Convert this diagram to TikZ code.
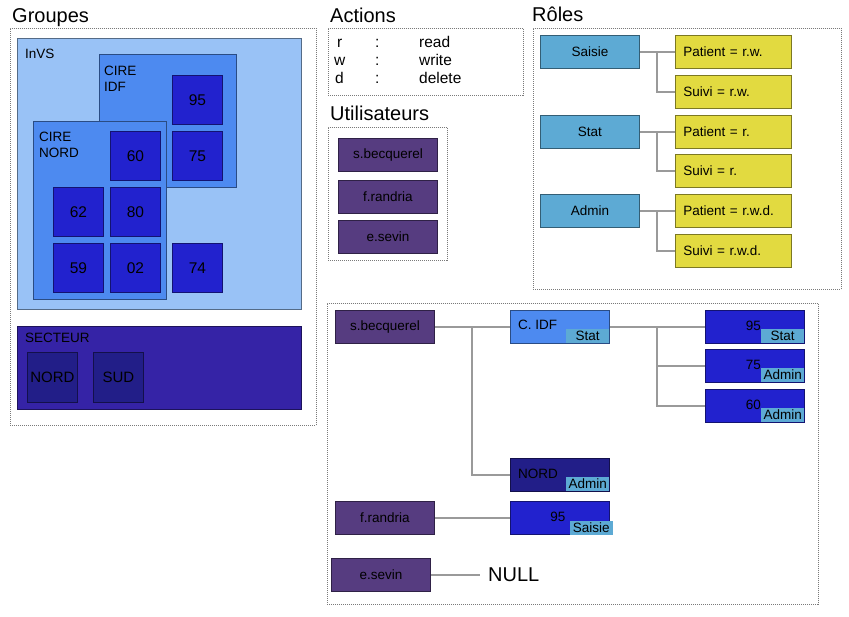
\documentclass[tikz,border=0pt]{standalone}
\usepackage{fontspec}
\setmainfont{Liberation Sans}
\definecolor{invs}{HTML}{99C2F6}
\definecolor{cire}{HTML}{4D8AF0}
\definecolor{dept}{HTML}{2222CE}
\definecolor{sect}{HTML}{3523A6}
\definecolor{sectin}{HTML}{221E88}
\definecolor{user}{HTML}{563C80}
\definecolor{role}{HTML}{5DAAD4}
\definecolor{perm}{HTML}{E2DA40}
\definecolor{conn}{HTML}{9A9A9A}
\definecolor{dots}{HTML}{7A7A7A}
\newcommand{\fs}[1]{\fontsize{#1}{#1}\selectfont}
\tikzset{
  bx/.style={rectangle, draw=#1!55!black, fill=#1, line width=0.9pt, inner sep=0pt, anchor=north west},
  frame/.style={rectangle, draw=dots, line width=0.7pt, dash pattern=on 1pt off 1pt, inner sep=0pt, anchor=north west},
  title/.style={anchor=base west, inner sep=0pt, font=\fs{20}},
  lbl/.style={anchor=base west, inner sep=0pt, font=\fs{13.5}, text=black},
  num/.style={font=\fs{15.5}, text=black},
  txt/.style={font=\fs{13.5}, text=black},
  badge/.style={rectangle, fill=role, inner sep=0pt, minimum width=43pt, minimum height=14pt, font=\fs{13.5}, text=black},
  conn/.style={draw=conn, line width=1.4pt},
}
\begin{document}
\begin{tikzpicture}[x=1pt,y=-1pt]
\useasboundingbox (0,0) rectangle (849,616);
% ---------- Groupes ----------
\node[title] (tgroupes) at (12,22) {Groupes};
\node[frame, minimum width=306pt, minimum height=397pt] (fgroupes) at (10,28) {};
\node[bx=invs, minimum width=284pt, minimum height=271pt] (invs) at (17,38) {};
\node[lbl] (linvs) at (25,58) {InVS};
\node[bx=cire, minimum width=137pt, minimum height=133pt] (cidfg) at (99,54) {};
\node[lbl] (lcidf1) at (104,75) {CIRE};
\node[lbl] (lcidf2) at (104,91) {IDF};
\node[bx=cire, minimum width=133pt, minimum height=178pt] (cnord) at (33,121) {};
\node[lbl] (lcnord1) at (39,141) {CIRE};
\node[lbl] (lcnord2) at (39,157) {NORD};
\tikzset{sq/.style={bx=dept, minimum width=50pt, minimum height=49pt, num}}
\node[sq] (g95) at (172,75) {95};
\node[sq] (g75) at (172,131) {75};
\node[sq] (g60) at (110,131) {60};
\node[sq] (g62) at (53,187) {62};
\node[sq] (g80) at (110,187) {80};
\node[sq] (g59) at (53,243) {59};
\node[sq] (g02) at (110,243) {02};
\node[sq] (g74) at (172,243) {74};
% Secteur
\node[bx=sect, minimum width=284pt, minimum height=83pt] (secteur) at (17,326) {};
\node[lbl] (lsect) at (25,342) {SECTEUR};
\node[bx=sectin, minimum width=50pt, minimum height=50pt, font=\fs{15}, text=black] (snord) at (27,352) {NORD};
\node[bx=sectin, minimum width=50pt, minimum height=50pt, font=\fs{15}, text=black] (ssud) at (93,352) {SUD};
% ---------- Actions ----------
\node[title] (tactions) at (330,22) {Actions};
\node[frame, minimum width=195pt, minimum height=67pt] (factions) at (328,28) {};
\tikzset{act/.style={anchor=base west, inner sep=0pt, font=\fs{15.5}}}
\node[act] (a1) at (337,47) {r};
\node[act] (a2) at (375,47) {:};
\node[act] (a3) at (419,47) {read};
\node[act] (a4) at (334,65) {w};
\node[act] (a5) at (375,65) {:};
\node[act] (a6) at (419,65) {write};
\node[act] (a7) at (335,83) {d};
\node[act] (a8) at (375,83) {:};
\node[act] (a9) at (419,83) {delete};
% ---------- Utilisateurs ----------
\node[title] (tusers) at (330,120) {Utilisateurs};
\node[frame, minimum width=119pt, minimum height=133pt] (fusers) at (328,127) {};
\tikzset{usr/.style={bx=user, minimum width=99pt, minimum height=33pt, txt}}
\node[usr] (u1) at (338,138) {s.becquerel};
\node[usr] (u2) at (338,180) {f.randria};
\node[usr] (u3) at (338,220) {e.sevin};
% ---------- Roles ----------
\node[title] (troles) at (532,21) {Rôles};
\node[frame, minimum width=308pt, minimum height=261pt] (froles) at (533,28) {};
\tikzset{rl/.style={bx=role, minimum width=99pt, minimum height=33pt, txt},
  pm/.style={bx=perm, minimum width=116pt, minimum height=33pt, txt, text width=100pt, align=left}}
\node[rl] (saisie) at (540,35) {Saisie};
\node[rl] (stat) at (540,115) {Stat};
\node[rl] (admin) at (540,194) {Admin};
\node[pm] (p1) at (675,35) {Patient = r.w.};
\node[pm] (s1) at (675,75) {Suivi = r.w.};
\node[pm] (p2) at (675,115) {Patient = r.};
\node[pm] (s2) at (675,154) {Suivi = r.};
\node[pm] (p3) at (675,194) {Patient = r.w.d.};
\node[pm] (s3) at (675,234) {Suivi = r.w.d.};
\draw[conn] (saisie.east) -- (p1.west);
\draw[conn] (stat.east) -- (p2.west);
\draw[conn] (admin.east) -- (p3.west);
\coordinate (rj1) at (657,51.5);
\coordinate (rj2) at (657,131);
\coordinate (rj3) at (657,210);
\draw[conn] (rj1) |- (s1.west);
\draw[conn] (rj2) |- (s2.west);
\draw[conn] (rj3) |- (s3.west);
% ---------- Affectations ----------
\node[frame, minimum width=491pt, minimum height=301pt] (faff) at (327,303) {};
\node[usr] (bsb) at (335,310) {s.becquerel};
\node[usr] (bfr) at (335,501) {f.randria};
\node[usr] (bes) at (331,558) {e.sevin};
\tikzset{as/.style={bx=#1, minimum width=99pt, minimum height=33pt}}
\node[as=cire] (bcidf) at (510,310) {};
\node[anchor=west, inner sep=0pt, txt] (lbcidf) at (518,325) {C. IDF};
\node[badge, anchor=south east] (bgcidf) at ([xshift=-0.5pt,yshift=1pt]bcidf.south east) {Stat};
\node[as=sectin] (bnord) at (510,458) {};
\node[anchor=west, inner sep=0pt, txt] (lbnord) at (518,474) {NORD};
\node[badge, anchor=south east] (bgnord) at ([xshift=-0.5pt,yshift=1pt]bnord.south east) {Admin};
\node[as=dept] (b95f) at (510,501) {};
\node[badge, anchor=south east] (bg95f) at ([xshift=3pt,yshift=0pt]b95f.south east) {Saisie};
\node[anchor=east, inner sep=0pt, txt] (l95f) at ([xshift=-4pt,yshift=4pt]bg95f.north west) {95};
\node[as=dept] (d95) at (705,310) {};
\node[badge, anchor=south east] (bgd95) at ([xshift=-0.5pt,yshift=1pt]d95.south east) {Stat};
\node[anchor=east, inner sep=0pt, txt] (ld95) at ([yshift=3pt]bgd95.north west) {95};
\node[as=dept] (d75) at (705,349) {};
\node[badge, anchor=south east] (bgd75) at ([xshift=-0.5pt,yshift=1pt]d75.south east) {Admin};
\node[anchor=east, inner sep=0pt, txt] (ld75) at ([yshift=3pt]bgd75.north west) {75};
\node[as=dept] (d60) at (705,389) {};
\node[badge, anchor=south east] (bgd60) at ([xshift=-0.5pt,yshift=1pt]d60.south east) {Admin};
\node[anchor=east, inner sep=0pt, txt] (ld60) at ([yshift=3pt]bgd60.north west) {60};
\node[anchor=west, inner sep=0pt, inner xsep=8pt, font=\fs{20}] (null) at (480,574.5) {NULL};
% connectors
\draw[conn] (bsb.east) -- (bcidf.west);
\coordinate (aj1) at (472,326.5);
\draw[conn] (aj1) |- (bnord.west);
\draw[conn] (bfr.east) -- (b95f.west);
\draw[conn] (bes.east) -- (bes.east -| null.west);
\draw[conn] (bcidf.east) -- (d95.west);
\coordinate (aj2) at (657,326.5);
\draw[conn] (aj2) |- (d75.west);
\draw[conn] (aj2) |- (d60.west);
\end{tikzpicture}
\end{document}
